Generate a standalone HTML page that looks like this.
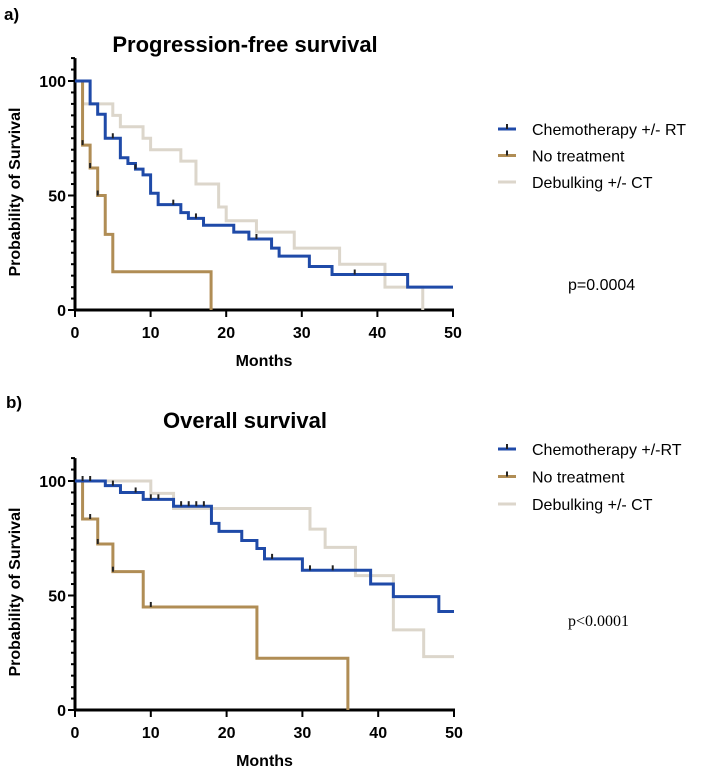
<!DOCTYPE html>
<html><head><meta charset="utf-8"><style>
body{margin:0;background:#fff;}
svg{display:block;font-family:"Liberation Sans",sans-serif;}
</style></head><body>
<svg id="fig" width="716" height="773">
<text x="4" y="20" font-size="17" font-weight="bold">a)</text>
<text x="245" y="52" font-size="22" font-weight="bold" text-anchor="middle">Progression-free survival</text>
<text x="6" y="408" font-size="17" font-weight="bold">b)</text>
<text x="245" y="428" font-size="22" font-weight="bold" text-anchor="middle">Overall survival</text>
<g id="pA"></g>
<g id="pB"></g>
</svg>
<script>
const xTicks=[0,10,20,30,40,50];
const yTicks=[0,50,100];
const seriesNames=["Chemotherapy +/- RT","No treatment","Debulking +/- CT"];
const seriesNamesB=["Chemotherapy +/-RT","No treatment","Debulking +/- CT"];
const colors=["#1f4aa8","#b08d55","#dcd6cb"];
// PFS step data: [time, survival after step]
const pfsChemo=[[0,100],[2,90],[3,85.5],[4,75],[6,66.5],[7,64],[8,61.5],[9,59],[10,51],[11,46],[14,42.5],[15,40],[17,37],[21,34],[23,31],[26,27],[27,23.5],[31,19],[34,15.5],[44,10],[50,10]];
const pfsNone=[[0,100],[1,72],[2,62],[3,50],[4,33],[5,16.7],[18,0]];
const pfsDebulk=[[0,100],[1,90],[5,85],[6,80],[9,75],[10,70],[14,65],[16,55],[19,45],[20,39],[24,34],[29,27],[35,20],[41,10],[46,0]];
const pfsCensChemo=[5,8,13,16,24,37];
const pfsCensNone=[1,2,3];
// OS data
const osChemo=[[0,100],[4,98],[6,95],[9,92],[13,89],[18,81.5],[19,78],[22,74],[24,70.5],[25,66],[30,61],[39,55],[42,49.5],[48,43],[50,43]];
const osNone=[[0,100],[1,83.4],[3,72.5],[5,60.4],[9,45],[24,22.6],[36,0]];
const osDebulk=[[0,100],[10,94.6],[13,88],[31,79],[33,71],[37,58.7],[42,35],[46,23.3],[50,23.3]];
const osCensChemo=[1,2,5,8,10,11,14,15,16,17,26,31,34];
const osCensNone=[2,3,5,10];
const NS="http://www.w3.org/2000/svg";
function mk(p,t,a){const e=document.createElementNS(NS,t);for(const k in a)e.setAttribute(k,a[k]);p.appendChild(e);return e;}
function survAt(s,t){let v=s[0][1];for(const [x,y] of s){if(x<=t)v=y;}return v;}
function draw(g,cfg){
 const X=v=>cfg.x0+(cfg.x1-cfg.x0)*v/50;
 const Y=v=>cfg.y0-(cfg.y0-cfg.y100)*v/100;
 let a=mk(g,'line',{x1:X(0),y1:Y(0),x2:X(0),y2:Y(110),stroke:'#000','stroke-width':3});
 
 
 a=mk(g,'line',{x1:X(0)-1,y1:Y(0),x2:X(50)+1,y2:Y(0),stroke:'#000','stroke-width':3});
 
 
 for(let v=0;v<=110;v+=5){const big=v%50==0;mk(g,'line',{x1:X(0)-(big?7:4),y1:Y(v),x2:X(0),y2:Y(v),stroke:'#000','stroke-width':2});}
 yTicks.forEach(v=>{const t=mk(g,'text',{x:X(0)-9,y:Y(v)+6,'font-size':16,'font-weight':'bold','text-anchor':'end'});t.textContent=v;
 
 });
 xTicks.forEach(v=>{mk(g,'line',{x1:X(v),y1:Y(0),x2:X(v),y2:Y(0)+7,stroke:'#000','stroke-width':2});
 const t=mk(g,'text',{x:X(v),y:Y(0)+28,'font-size':16,'font-weight':'bold','text-anchor':'middle'});t.textContent=v;
 
 });
 let t=mk(g,'text',{x:(X(0)+X(50))/2,y:Y(0)+56,'font-size':16,'font-weight':'bold','text-anchor':'middle'});t.textContent='Months';
 
 
 const cy=(Y(0)+Y(110))/2+8;
 t=mk(g,'text',{x:20,y:cy,'font-size':16,'font-weight':'bold','text-anchor':'middle',transform:`rotate(-90 20 ${cy})`});t.textContent='Probability of Survival';
 
 
 const order=[2,1,0];
 order.forEach(i=>{const s=cfg.series[i];let d=`M${X(s[0][0])},${Y(s[0][1])}`;
  for(let k=1;k<s.length;k++){d+=` H${X(s[k][0])} V${Y(s[k][1])}`;}
  const p=mk(g,'path',{d,fill:'none',stroke:colors[i],'stroke-width':3});
  
  
 });
 [[cfg.cens[0],0],[cfg.cens[1],1]].forEach(([arr,i])=>arr.forEach(c=>{const v=survAt(cfg.series[i],c);
  const m=mk(g,'line',{x1:X(c),y1:Y(v)-5,x2:X(c),y2:Y(v),stroke:'#222','stroke-width':2});
  
  }));
 cfg.names.forEach((n,i)=>{const ly=cfg.legY+i*cfg.legGap;
  mk(g,'line',{x1:498,y1:ly,x2:516,y2:ly,stroke:colors[i],'stroke-width':3});
  if(i<2)mk(g,'line',{x1:507,y1:ly-5,x2:507,y2:ly,stroke:'#222','stroke-width':2});
  const tt=mk(g,'text',{x:532,y:ly+6,'font-size':16});tt.textContent=n;
  
  });
 t=mk(g,'text',{x:568,y:cfg.pY,'font-size':16,'font-family':cfg.pFont});t.textContent=cfg.p;
 
 
}
draw(document.getElementById('pA'),{x0:75,x1:453,y0:310,y100:81,series:[pfsChemo,pfsNone,pfsDebulk],cens:[pfsCensChemo,pfsCensNone],names:seriesNames,legY:129,legGap:26.5,p:'p=0.0004',pY:290,pFont:'Liberation Sans'});
draw(document.getElementById('pB'),{x0:75,x1:454,y0:710,y100:481,series:[osChemo,osNone,osDebulk],cens:[osCensChemo,osCensNone],names:seriesNamesB,legY:449,legGap:27.5,p:'p<0.0001',pY:626,pFont:'Liberation Serif'});
</script>
</body></html>
